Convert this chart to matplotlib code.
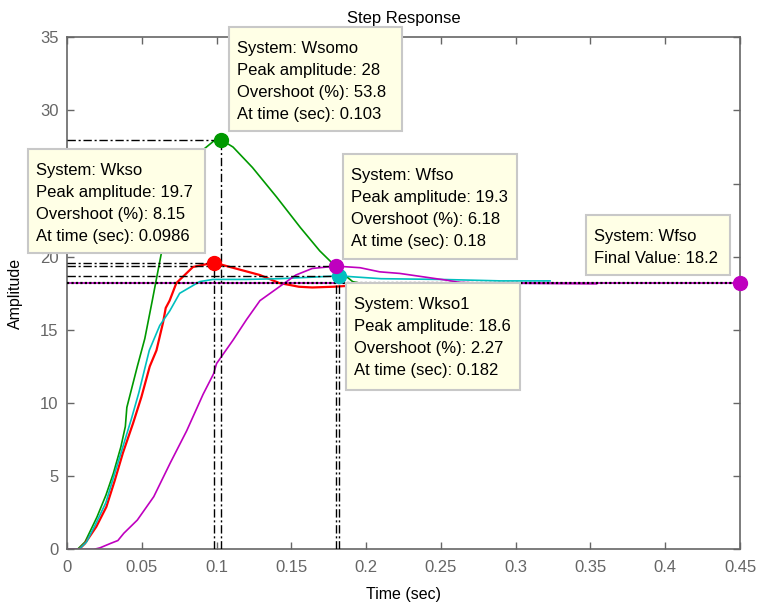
import numpy as np
import matplotlib.pyplot as plt
from matplotlib.patches import Rectangle
from matplotlib.transforms import Affine2D

plt.rcParams['font.family'] = ['Liberation Sans', 'DejaVu Sans']

# step responses (time in sec, amplitude)
t_wsomo = [0, 0.007, 0.012, 0.020, 0.026, 0.031, 0.036, 0.039, 0.040, 0.047, 0.052, 0.057,
           0.063, 0.070, 0.077, 0.084, 0.092, 0.098, 0.103, 0.111, 0.124, 0.140, 0.156,
           0.169, 0.178, 0.185, 0.191, 0.200, 0.215, 0.250]
y_wsomo = [0, 0, 0.5, 2.2, 3.7, 5.2, 7.0, 8.4, 9.7, 12.5, 14.4, 17.0,
           20.2, 23.2, 25.3, 26.7, 27.4, 27.9, 28.0, 27.5, 26.1, 24.1, 22.0,
           20.4, 19.5, 18.8, 18.3, 18.1, 18.2, 18.2]

t_wkso = [0, 0.008, 0.012, 0.0196, 0.0263, 0.0319, 0.0374, 0.0441, 0.0497, 0.0553, 0.0598,
          0.0642, 0.066, 0.0686, 0.0731, 0.0842, 0.0982, 0.109, 0.129, 0.142, 0.149, 0.155,
          0.164, 0.178, 0.196, 0.22, 0.25]
y_wkso = [0, 0, 0.4, 1.55, 2.9, 4.7, 6.6, 8.6, 10.4, 12.5, 13.6,
          15.5, 16.5, 17.0, 18.2, 19.3, 19.6, 19.3, 18.75, 18.2, 18.07, 17.95,
          17.9, 17.95, 18.06, 18.2, 18.2]

t_wkso1 = [0, 0.008, 0.013, 0.019, 0.026, 0.031, 0.037, 0.043, 0.048, 0.055, 0.062, 0.0687,
           0.0753, 0.0887, 0.0976, 0.12, 0.142, 0.169, 0.182, 0.191, 0.21, 0.25, 0.29, 0.323]
y_wkso1 = [0, 0, 0.5, 1.7, 3.2, 4.9, 6.9, 8.9, 10.7, 13.6, 15.3, 16.3,
           17.5, 18.3, 18.45, 18.45, 18.5, 18.63, 18.7, 18.63, 18.5, 18.45, 18.35, 18.35]

t_wfso = [0, 0.018, 0.022, 0.029, 0.034, 0.038, 0.047, 0.058, 0.069, 0.080, 0.091, 0.098,
          0.100, 0.111, 0.120, 0.129, 0.142, 0.153, 0.164, 0.180, 0.196, 0.209, 0.2225,
          0.238, 0.2536, 0.2625, 0.276, 0.31, 0.354]
y_wfso = [0, 0, 0.1, 0.4, 0.6, 1.1, 2.0, 3.6, 5.9, 8.1, 10.6, 12.0,
          12.7, 14.3, 15.7, 17.0, 17.95, 18.75, 19.2, 19.36, 19.25, 18.97, 18.86,
          18.63, 18.4, 18.25, 18.2, 18.18, 18.15]

final_value = 18.2
t_final = 0.45

x_ticks = [0, 0.05, 0.1, 0.15, 0.2, 0.25, 0.3, 0.35, 0.4, 0.45]
x_tick_labels = ['0', '0.05', '0.1', '0.15', '0.2', '0.25', '0.3', '0.35', '0.4', '0.45']
y_ticks = [0, 5, 10, 15, 20, 25, 30, 35]

systems = [
    (t_wsomo, y_wsomo, '#009900', 1.2),
    (t_wkso, y_wkso, '#ff0000', 1.6),
    (t_wkso1, y_wkso1, '#00bfbf', 1.2),
    (t_wfso, y_wfso, '#bf00bf', 1.2),
]

# datatip boxes: left, top, width, height (pixels from top-left) and lines
tips = [
    (229, 27, 173, 104, ['System: Wsomo', 'Peak amplitude: 28', 'Overshoot (%): 53.8', 'At time (sec): 0.103']),
    (28, 149, 177, 104, ['System: Wkso', 'Peak amplitude: 19.7', 'Overshoot (%): 8.15', 'At time (sec): 0.0986']),
    (343, 154, 174, 105, ['System: Wfso', 'Peak amplitude: 19.3', 'Overshoot (%): 6.18', 'At time (sec): 0.18']),
    (586, 215, 144, 60, ['System: Wfso', 'Final Value: 18.2']),
    (346, 283, 174, 107, ['System: Wkso1', 'Peak amplitude: 18.6', 'Overshoot (%): 2.27', 'At time (sec): 0.182']),
]

fig = plt.figure(figsize=(7.59, 6.02), dpi=100)
ax = fig.add_axes([0.0883, 0.0875, 0.8867, 0.8505])

gray = '#666666'
dashdot = (0, (6, 2, 1.5, 2))

# final value line (colored underneath, black dotted on top)
ax.plot([0, t_final], [final_value, final_value], color='#bf00bf', lw=1.2, zorder=2)
ax.plot([0, t_final], [final_value, final_value], color='black', lw=1.6,
        linestyle=(0, (1, 1)), zorder=3)

# curves
for t, y, c, lw in systems:
    ax.plot(t, y, color=c, lw=lw, zorder=2)

# peak lines + markers
for t, y, c, lw in systems:
    i = int(np.argmax(y))
    tp, yp = t[i], y[i]
    ax.plot([0, tp], [yp, yp], color='black', lw=1, linestyle=dashdot, zorder=3)
    ax.plot([tp, tp], [0, yp], color='black', lw=1, linestyle=dashdot, zorder=3)
for t, y, c, lw in systems:
    i = int(np.argmax(y))
    ax.plot(t[i], y[i], 'o', color=c, markersize=10, zorder=4)

ax.plot(t_final, final_value, 'o', color='#bf00bf', markersize=10, zorder=5, clip_on=False)

ax.set_xlim(0, 0.45)
ax.set_ylim(0, 35)
ax.set_xticks(x_ticks)
ax.set_xticklabels(x_tick_labels)
ax.set_yticks(y_ticks)
ax.tick_params(direction='in', length=5, width=1, color=gray, labelcolor=gray,
               labelsize=12, top=True, right=True)
ax.tick_params(axis='x', pad=8)
ax.tick_params(axis='y', pad=6)
for s in ax.spines.values():
    s.set_color(gray)
    s.set_linewidth(1.2)

ax.set_title('Step Response', fontsize=12, pad=10)
ax.set_xlabel('Time (sec)', fontsize=11.5, labelpad=8)
ax.set_ylabel('Amplitude', fontsize=11.5, labelpad=12)

# datatips drawn in pixel coordinates (y measured down from the top)
px = Affine2D().scale(1, -1).translate(0, 602)
for x0, y0, w, h, lines in tips:
    fig.add_artist(Rectangle((x0, y0), w, h, transform=px, facecolor='#ffffe6',
                             edgecolor='#c8c8c8', lw=1.5, zorder=5))
    for k, line in enumerate(lines):
        fig.text(x0 + 8, y0 + 26 + 22 * k, line, transform=px, fontsize=12,
                 va='baseline', ha='left', zorder=6)

plt.savefig('out.png', dpi=100)
